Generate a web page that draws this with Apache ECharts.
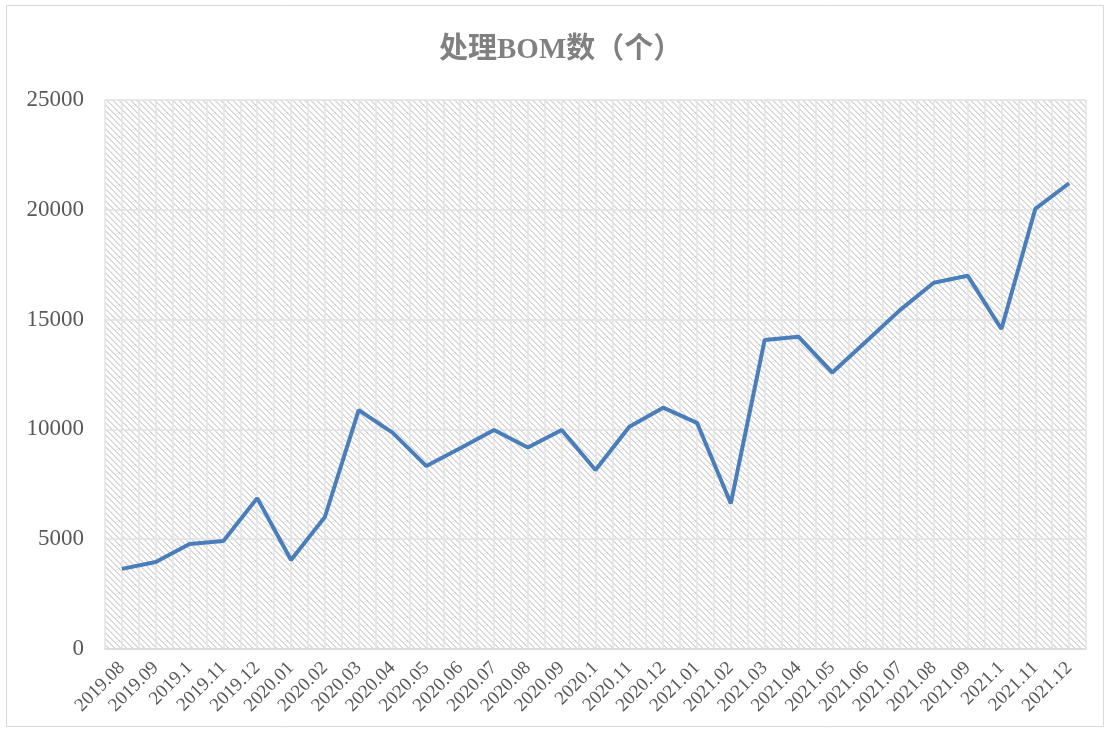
<!DOCTYPE html>
<html>
<head>
<meta charset="utf-8">
<script src="https://cdn.jsdelivr.net/npm/echarts@6/dist/echarts.min.js"></script>
<style>
html,body{margin:0;padding:0;background:#fff;}
#chart{width:1110px;height:731px;}
</style>
</head>
<body>
<div id="chart"></div>
<script>
const titleText = '处理BOM数（个）';
const categories = ['2019.08','2019.09','2019.1','2019.11','2019.12','2020.01','2020.02','2020.03','2020.04','2020.05','2020.06','2020.07','2020.08','2020.09','2020.1','2020.11','2020.12','2021.01','2021.02','2021.03','2021.04','2021.05','2021.06','2021.07','2021.08','2021.09','2021.1','2021.11','2021.12'];
const bomCounts = [3650,3960,4780,4920,6870,4050,6010,10880,9850,8330,9140,9970,9180,9970,8150,10120,10990,10300,6630,14070,14220,12590,14000,15430,16680,17000,14570,20040,21210];
const yTicks = [0,5000,10000,15000,20000,25000];

// diagonal hatch pattern for plot background
const tile = document.createElement('canvas');
tile.width = 6; tile.height = 6;
const tctx = tile.getContext('2d');
tctx.fillStyle = '#ffffff';
tctx.fillRect(0,0,6,6);
tctx.fillStyle = '#dadada';
for (let x = 0; x < 6; x++) {
  for (let y = 0; y < 6; y++) {
    if (((x - y + 6) % 6) < 2) tctx.fillRect(x, y, 1, 1);
  }
}

const chart = echarts.init(document.getElementById('chart'), null, {renderer:'canvas'});
const serif = "'Liberation Serif','Times New Roman','Noto Sans CJK SC',serif";
chart.setOption({
  animation: false,
  backgroundColor: '#ffffff',
  title: {
    text: titleText,
    left: 434,
    top: 31,
    textStyle: {fontFamily: serif, fontWeight: 'bold', fontSize: 29, color: '#808080'}
  },
  graphic: [{
    type: 'rect',
    shape: {x: 6.5, y: 5.5, width: 1097, height: 721},
    style: {fill: 'none', stroke: '#d9d9d9', lineWidth: 1},
    silent: true
  }],
  grid: {
    left: 105, right: 24, top: 100, bottom: 82,
    show: true,
    borderWidth: 0,
    backgroundColor: {image: tile, repeat: 'repeat'}
  },
  xAxis: [{
    type: 'category',
    data: categories,
    boundaryGap: true,
    axisLine: {lineStyle: {color: '#d9d9d9', width: 1.5}},
    axisTick: {show: false},
    splitLine: {show: false},
    axisLabel: {
      interval: 0, rotate: 45, margin: 16,
      fontFamily: serif, fontSize: 19, color: '#595959'
    }
  }, {
    type: 'value',
    min: 0, max: categories.length * 2, interval: 1,
    position: 'bottom',
    axisLine: {show: false},
    axisTick: {show: false},
    axisLabel: {show: false},
    splitLine: {show: true, lineStyle: {color: '#e3e3e3', width: 1.5}}
  }],
  yAxis: {
    type: 'value',
    min: yTicks[0], max: yTicks[yTicks.length-1], interval: yTicks[1]-yTicks[0],
    axisLine: {show: false},
    axisTick: {show: false},
    axisLabel: {margin: 21, fontFamily: serif, fontSize: 23, color: '#595959', formatter: function (v) { return String(v); }},
    splitLine: {show: true, lineStyle: {color: '#e0e0e0', width: 1.5}}
  },
  series: [{
    type: 'line',
    xAxisIndex: 0,
    data: bomCounts,
    symbol: 'none',
    lineStyle: {color: '#4a7ebb', width: 4},
    itemStyle: {color: '#4a7ebb'}
  }]
});
</script>
</body>
</html>
